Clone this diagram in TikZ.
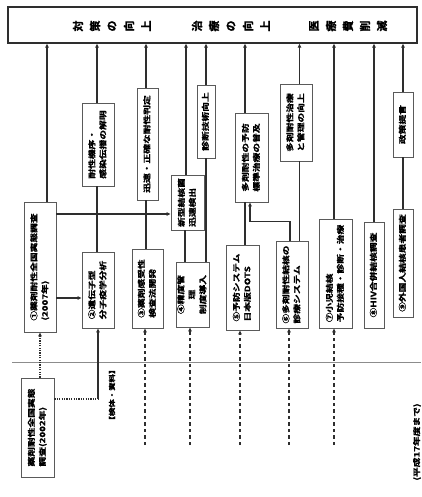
\documentclass[tikz,border=0pt]{standalone}
\usepackage{fontspec}
\usepackage{graphicx}
\usetikzlibrary{arrows.meta}

\newfontfamily\jpb{Noto Sans CJK JP Bold}[FakeStretch=1.3, FakeBold=1.2]
\newfontfamily\jph{Noto Sans CJK JP Bold}[FakeBold=1.5]
\definecolor{ink}{HTML}{2E2E2E}
\definecolor{frame}{HTML}{5A5A5A}
\definecolor{rulegray}{HTML}{8C8C8C}

% text set sideways, first line on the left
\newcommand{\vlines}[2][l]{\rotatebox{90}{\begin{tabular}{@{}#1@{}}#2\end{tabular}}}

\begin{document}
\begin{tikzpicture}[x=1pt, y=-1pt,
    panel/.style={draw=frame, fill=white, line width=0.9pt, inner sep=0pt,
      text=black, font=\jpb\fontsize{7.5}{11}\selectfont},
    up/.style={draw=ink, line width=1.2pt, -{Triangle[length=4pt,width=3.6pt]}},
    link/.style={draw=ink, line width=1.2pt},
    feed/.style={draw=ink, line width=1.7pt, dash pattern=on 3.5pt off 3pt,
      -{Triangle[length=4pt,width=3.6pt]}},
    dots/.style={draw=ink, line width=1.8pt, dash pattern=on 1.2pt off 1.2pt},
    headch/.style={rotate=90, inner sep=0pt, text=black,
      font=\jph\fontsize{11}{11}\selectfont},
    note/.style={rotate=90, inner sep=0pt, text=black,
      font=\jpb\fontsize{6.5}{8}\selectfont}]

  \useasboundingbox (0,0) rectangle (421,497);

  % Goal bar
  \node[draw=ink, line width=1.4pt, minimum width=409pt, minimum height=36pt,
    inner sep=0pt] (head) at (212.5,25) {};
  \foreach \c [count=\i] in {対,策,の,向,上}
    \node[headch] (ha\i) at ({61+17*\i},26) {\c};
  \foreach \c [count=\i] in {治,療,の,向,上}
    \node[headch] (hb\i) at ({180+17*\i},26) {\c};
  \foreach \c [count=\i] in {医,療,費,削,減}
    \node[headch] (hc\i) at ({297+17*\i},26) {\c};

  % Research projects
  \node[panel, minimum width=32pt, minimum height=130pt] (r1) at (40,267)
    {\vlines{①薬剤耐性全国実態調査\\(2007年)}};
  \node[panel, minimum width=32pt, minimum height=76pt] (r2) at (98,290)
    {\vlines{②遺伝子型\\分子疫学分析}};
  \node[panel, minimum width=31pt, minimum height=79pt] (r3) at (147.5,288.5)
    {\vlines{③薬剤感受性\\検査法開発}};
  \node[panel, minimum width=33pt, minimum height=65pt] (r4) at (192.5,294.5)
    {\vlines[c]{④精度管\\理\\制度導入}};
  \node[panel, minimum width=33pt, minimum height=85pt] (r5) at (242.5,287.5)
    {\vlines{⑤予防システム\\日本版DOTS}};
  \node[panel, minimum width=32pt, minimum height=87pt] (r6) at (292,284.5)
    {\vlines{⑥多剤耐性結核の\\診療システム}};
  \node[panel, minimum width=33pt, minimum height=109pt] (r7) at (335.5,273.5)
    {\vlines{⑦小児結核\\予防接種・診断・治療}};
  \node[panel, minimum width=20pt, minimum height=106pt] (r8) at (374,275)
    {\vlines{⑧HIV合併結核調査}};
  \node[panel, minimum width=20pt, minimum height=108pt] (r9) at (403,263)
    {\vlines{⑨外国人結核患者調査}};

  % Outcomes
  \node[panel, minimum width=32pt, minimum height=83pt] (u2) at (98,144.5)
    {\vlines{耐性機序・\\感染伝播の解明}};
  \node[panel, minimum width=21pt, minimum height=112pt] (u3) at (147.5,144)
    {\vlines{迅速・正確な耐性判定}};
  \node[panel, minimum width=33pt, minimum height=55pt] (u4) at (187.5,202.5)
    {\vlines{新型結核菌\\迅速検出}};
  \node[panel, minimum width=18pt, minimum height=73pt] (u4b) at (206,121.5)
    {\vlines{診断技術向上}};
  \node[panel, minimum width=33pt, minimum height=89pt] (u5) at (251.5,157.5)
    {\vlines{多剤耐性の予防\\標準治療の普及}};
  \node[panel, minimum width=32pt, minimum height=77pt] (u6) at (296,122.5)
    {\vlines{多剤耐性治療\\と管理の向上}};
  \node[panel, minimum width=20pt, minimum height=65pt] (u9) at (403,124.5)
    {\vlines{政策提言}};

  % Earlier survey
  \node[panel, minimum width=33pt, minimum height=99pt] (base) at (37.5,427.5)
    {\vlines{薬剤耐性全国実態\\調査(2002年)}};

  % Arrows into the goal bar
  \foreach \n/\dx in {r1/7, u2/-1, u3/-1.5, u4/-1.5, u4b/0, u5/-6.5,
                      u6/3.5, r7/-1.5, r8/0, u9/0}
    \draw[up] ([xshift=\dx pt]\n.north) -- ([xshift=\dx pt]\n.north |- head.south);

  % Projects to outcomes
  \foreach \a/\b/\dx in {r2/u2/-1, r3/u3/-1.5, r4/u4/-7.5, r4/u4b/13.5,
                         r5/u5/2.5, r6/u6/7.5, r9/u9/0}
    \draw[link] ([xshift=\dx pt]\a.north) -- ([xshift=\dx pt]\a.north |- \b.south);
  \draw[up] ([xshift=-2pt]r6.north) |- ([xshift=-1.5pt,yshift=-19pt]u5.south)
    -- ([xshift=-1.5pt]u5.south);
  \draw[up] ([yshift=53pt]r1.east) -- ([yshift=53pt]r1.east -| u4.west);
  \draw[up] ([yshift=-31pt]r1.east) -- ([yshift=-31pt]r1.east -| r2.west);

  % Separator
  \draw[rulegray, line width=0.9pt] (12,362) -- (421,362);

  % Samples and data
  \draw[dots, -{Triangle[length=4pt,width=3.6pt]}]
    ([xshift=2.5pt]base.north) -- ([xshift=2.5pt]base.north |- r1.south);
  \draw[dots] ([yshift=28.5pt]base.east) -- ([yshift=28.5pt]base.east -| r2.south)
    coordinate (bend);
  \draw[up] (bend) -- (r2.south);
  \node[note] (samples) at (112,395) {【検体・資料】};

  \coordinate (foot) at (0,445);
  \foreach \n/\dx in {r3/-2.5, r4/-2.5, r5/-2.5, r6/-3, r7/-1.5}
    \draw[feed] ([xshift=\dx pt]\n.south |- foot) -- ([xshift=\dx pt]\n.south);

  \node[note, font=\jpb\fontsize{7.5}{9}\selectfont] (period) at (417,442)
    {(平成17年度まで)};

\end{tikzpicture}
\end{document}
